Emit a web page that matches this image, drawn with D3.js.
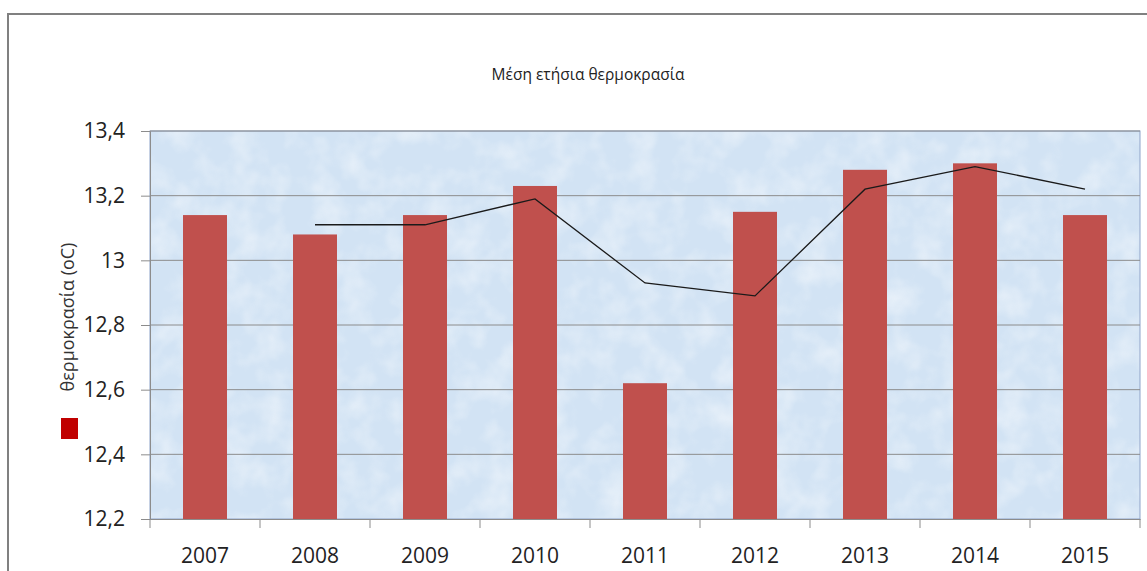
<!DOCTYPE html>
<html>
<head>
<meta charset="utf-8">
<script src="https://cdn.jsdelivr.net/npm/d3@7"></script>
<style>
body { margin: 0; background: #fff; }
svg text { font-family: "Open Sans", "Noto Sans", sans-serif; }
</style>
</head>
<body>
<div class="chart"></div>
<script>
var years = ["2007", "2008", "2009", "2010", "2011", "2012", "2013", "2014", "2015"];
var temps = [13.14, 13.08, 13.14, 13.23, 12.62, 13.15, 13.28, 13.30, 13.14];
// trend line (no value for 2007)
var trend = [null, 13.11, 13.11, 13.19, 12.93, 12.89, 13.22, 13.29, 13.22];
var yTicks = [12.2, 12.4, 12.6, 12.8, 13, 13.2, 13.4];

var w = 1147, h = 571;
var pLeft = 150, pRight = 1140, pTop = 131, pBottom = 519;

var svg = d3.select(".chart").append("svg")
    .attr("width", w)
    .attr("height", h);

// outer frame
svg.append("rect")
    .attr("x", 8).attr("y", 14)
    .attr("width", w + 20).attr("height", h + 20)
    .attr("fill", "#fff")
    .attr("stroke", "#808080")
    .attr("stroke-width", 2);

var x = d3.scaleBand().domain(years).range([pLeft, pRight]).paddingInner(0);
var y = d3.scaleLinear().domain([12.2, 13.4]).range([pBottom, pTop]);

// plot background (light blue, mottled)
var defs = svg.append("defs");
var filt = defs.append("filter").attr("id", "mottle")
    .attr("x", 0).attr("y", 0).attr("width", 1).attr("height", 1);
filt.append("feTurbulence")
    .attr("type", "fractalNoise")
    .attr("baseFrequency", 0.035)
    .attr("numOctaves", 3)
    .attr("seed", 4)
    .attr("result", "noise");
filt.append("feColorMatrix")
    .attr("in", "noise")
    .attr("type", "matrix")
    .attr("values", "0 0 0 0 1  0 0 0 0 1  0 0 0 0 1  1.6 0 0 0 -0.65")
    .attr("result", "spots");
filt.append("feComposite").attr("in", "spots").attr("in2", "SourceGraphic").attr("operator", "in");

svg.append("rect")
    .attr("x", pLeft).attr("y", pTop)
    .attr("width", pRight - pLeft).attr("height", pBottom - pTop)
    .attr("fill", "#d2e3f4");
svg.append("rect")
    .attr("x", pLeft).attr("y", pTop)
    .attr("width", pRight - pLeft).attr("height", pBottom - pTop)
    .attr("fill", "#ffffff")
    .attr("opacity", 0.55)
    .attr("filter", "url(#mottle)");
svg.append("rect")
    .attr("x", pLeft).attr("y", pTop)
    .attr("width", pRight - pLeft).attr("height", pBottom - pTop)
    .attr("fill", "none")
    .attr("stroke", "#8ea3c9")
    .attr("stroke-width", 1);

// gridlines
svg.selectAll(".grid")
    .data(yTicks.slice(1))
    .enter()
    .append("line")
    .attr("class", "grid")
    .attr("x1", pLeft).attr("x2", pRight)
    .attr("y1", function(d) { return y(d); })
    .attr("y2", function(d) { return y(d); })
    .attr("stroke", "#8c8c8c")
    .attr("stroke-width", 1);

// y axis
var yAxis = d3.axisLeft(y)
    .tickValues(yTicks)
    .tickSize(9)
    .tickPadding(16)
    .tickFormat(function(d) { return d3.format("~g")(d).replace(".", ","); });

var gy = svg.append("g")
    .attr("transform", "translate(" + pLeft + ",0)")
    .call(yAxis);
gy.select(".domain").attr("stroke", "#8c8c8c");
gy.selectAll(".tick line").attr("stroke", "#8c8c8c");
gy.selectAll(".tick text")
    .attr("fill", "#222")
    .style("font-size", "21px");

// bars
svg.selectAll(".bar")
    .data(temps)
    .enter()
    .append("rect")
    .attr("class", "bar")
    .attr("x", function(d, i) { return x(years[i]) + x.bandwidth() * 0.3; })
    .attr("width", x.bandwidth() * 0.4)
    .attr("y", function(d) { return y(d); })
    .attr("height", function(d) { return y(12.2) - y(d); })
    .attr("fill", "#c0504d");

// x axis
var xAxis = d3.axisBottom(x).tickSize(0).tickPadding(29);
var gx = svg.append("g")
    .attr("transform", "translate(0," + pBottom + ")")
    .call(xAxis);
gx.select(".domain").attr("stroke", "#8c8c8c");
gx.selectAll(".tick text")
    .attr("fill", "#222")
    .style("font-size", "21px");

// category boundary ticks
svg.selectAll(".xtick")
    .data(years.concat(["end"]))
    .enter()
    .append("line")
    .attr("class", "xtick")
    .attr("x1", function(d, i) { return pLeft + i * x.bandwidth(); })
    .attr("x2", function(d, i) { return pLeft + i * x.bandwidth(); })
    .attr("y1", pBottom).attr("y2", pBottom + 9)
    .attr("stroke", "#8c8c8c");

// trend line
var line = d3.line()
    .defined(function(d) { return d != null; })
    .x(function(d, i) { return x(years[i]) + x.bandwidth() / 2; })
    .y(function(d) { return y(d); });

svg.append("path")
    .datum(trend)
    .attr("d", line)
    .attr("fill", "none")
    .attr("stroke", "#1a1a1a")
    .attr("stroke-width", 1.3);

// title
svg.append("text")
    .attr("x", 588).attr("y", 80)
    .attr("text-anchor", "middle")
    .attr("fill", "#222")
    .style("font-size", "15.5px")
    .text("Μέση ετήσια θερμοκρασία");

// y label
svg.append("text")
    .attr("transform", "translate(74,317) rotate(-90)")
    .attr("text-anchor", "middle")
    .attr("fill", "#333")
    .style("font-size", "18px")
    .text("θερμοκρασία (oC)");

// legend square
svg.append("rect")
    .attr("x", 61).attr("y", 418)
    .attr("width", 17).attr("height", 21)
    .attr("fill", "#c00000");
</script>
</body>
</html>
